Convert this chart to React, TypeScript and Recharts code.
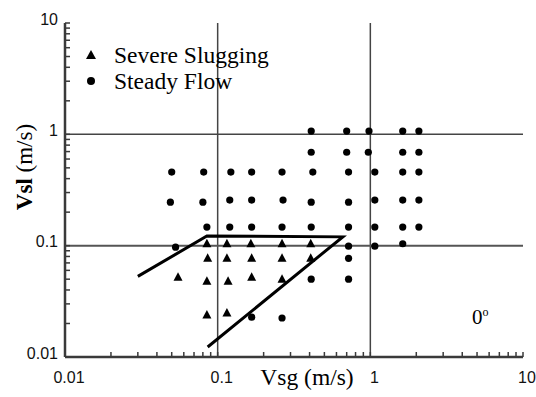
import React from "react";
import {
  ComposedChart,
  Scatter,
  XAxis,
  YAxis,
  ReferenceLine,
  Legend,
} from "recharts";

// superficial gas velocity (m/s) and liquid velocity (m/s) per test point
const STEADY_VSG = [
  0.41, 0.7, 0.98, 1.63, 2.08,
  0.41, 0.7, 0.97, 1.63, 2.08,
  0.05, 0.081, 0.122, 0.167, 0.264, 0.42, 0.72, 1.07, 1.63, 2.08,
  0.049, 0.08, 0.12, 0.167, 0.268, 0.41, 0.72, 1.07, 1.63, 2.08,
  0.085, 0.12, 0.167, 0.264, 0.41, 0.72, 1.07, 1.63, 2.08,
  0.053, 0.72, 1.07, 1.63,
  0.72,
  0.41, 0.72,
  0.167, 0.264,
];
const STEADY_VSL = [
  1.07, 1.07, 1.07, 1.07, 1.07,
  0.69, 0.69, 0.69, 0.69, 0.69,
  0.458, 0.458, 0.458, 0.458, 0.458, 0.458, 0.458, 0.458, 0.458, 0.458,
  0.246, 0.246, 0.257, 0.257, 0.257, 0.246, 0.246, 0.257, 0.257, 0.257,
  0.147, 0.147, 0.147, 0.147, 0.147, 0.147, 0.147, 0.147, 0.147,
  0.097, 0.099, 0.099, 0.104,
  0.077,
  0.05, 0.05,
  0.0228, 0.0224,
];

const SLUG_VSG = [
  0.085, 0.115, 0.165, 0.264, 0.407,
  0.086, 0.115, 0.167, 0.264, 0.407,
  0.055, 0.085, 0.117, 0.167, 0.264,
  0.085, 0.115,
];
const SLUG_VSL = [
  0.104, 0.104, 0.104, 0.104, 0.104,
  0.077, 0.077, 0.077, 0.077, 0.077,
  0.052, 0.048, 0.048, 0.052, 0.05,
  0.0238, 0.0248,
];

// severe slugging boundary
const BOUNDARY_VSG = [0.03, 0.085, 0.66, 0.086];
const BOUNDARY_VSL = [0.053, 0.122, 0.12, 0.0123];

const X_TICKS = [
  0.01, 0.02, 0.03, 0.04, 0.05, 0.06, 0.07, 0.08, 0.09,
  0.1, 0.2, 0.3, 0.4, 0.5, 0.6, 0.7, 0.8, 0.9,
  1, 2, 3, 4, 5, 6, 7, 8, 9, 10,
];
const Y_TICKS = X_TICKS;
const DECADES = [0.01, 0.1, 1, 10];
const DECADE_LABELS = ["0.01", "0.1", "1", "10"];

const steady = STEADY_VSG.map((x, i) => ({ x, y: STEADY_VSL[i] }));
const slugging = SLUG_VSG.map((x, i) => ({ x, y: SLUG_VSL[i] }));
const boundary = BOUNDARY_VSG.map((x, i) => ({ x, y: BOUNDARY_VSL[i] }));

const SANS = "'Liberation Sans', Arial, sans-serif";
const SERIF = "'Liberation Serif', 'Times New Roman', serif";
const FRAME = "#3a3a3a";

const decadeLabel = (v: number) => {
  const i = DECADES.indexOf(v);
  return i < 0 ? null : DECADE_LABELS[i];
};

const XTick = (props: any) => {
  const label = decadeLabel(props.payload.value);
  if (!label) return <g />;
  return (
    <text x={props.x + 4} y={props.y} dy="0.71em" textAnchor="middle"
      fontFamily={SANS} fontSize={16} fill="#111">
      {label}
    </text>
  );
};

const YTick = (props: any) => {
  const label = decadeLabel(props.payload.value);
  if (!label) return <g />;
  return (
    <text x={props.x} y={props.y - 4} dy="0.355em" textAnchor="end"
      fontFamily={SANS} fontSize={16} fill="#111">
      {label}
    </text>
  );
};

const Triangle = (props: any) => {
  const { cx, cy } = props;
  return (
    <path d={`M${cx},${cy - 5} L${cx + 4.5},${cy + 3.5} L${cx - 4.5},${cy + 3.5} Z`} fill="#000" />
  );
};

const Dot = (props: any) => <circle cx={props.cx} cy={props.cy} r={3.6} fill="#000" />;

const NoMarker = () => <g />;

const LegendBox = () => (
  <div style={{ fontFamily: SERIF, fontSize: 23.5, color: "#000", lineHeight: "26px" }}>
    <div style={{ display: "flex", alignItems: "center" }}>
      <svg width={14} height={12} style={{ marginRight: 16 }}>
        <path d="M7,1 L12,10 L2,10 Z" fill="#000" />
      </svg>
      Severe Slugging
    </div>
    <div style={{ display: "flex", alignItems: "center" }}>
      <svg width={14} height={12} style={{ marginRight: 16 }}>
        <circle cx={7} cy={6} r={4} fill="#000" />
      </svg>
      Steady Flow
    </div>
  </div>
);

export default function App() {
  return (
    <div style={{ position: "absolute", left: 0, top: 0, width: 536, height: 397, background: "#fff" }}>
      <ComposedChart
        width={536}
        height={397}
        margin={{ top: 23, right: 13, bottom: 0, left: 0 }}
      >
        <XAxis
          xAxisId="bottom"
          dataKey="x"
          type="number"
          scale="log"
          domain={[0.01, 10]}
          ticks={X_TICKS}
          interval={0}
          allowDataOverflow
          height={40}
          tickSize={-5}
          tickMargin={20}
          axisLine={{ stroke: FRAME, strokeWidth: 2.5 }}
          tickLine={{ stroke: FRAME, strokeWidth: 1.5 }}
          tick={<XTick />}
          label={{
            content: () => (
              <text x={307} y={385} textAnchor="middle" fontFamily={SERIF} fontSize={23.5} fill="#000">
                Vsg (m/s)
              </text>
            ),
          }}
        />
        <XAxis
          xAxisId="top"
          orientation="top"
          dataKey="x"
          type="number"
          scale="log"
          domain={[0.01, 10]}
          ticks={X_TICKS}
          interval={0}
          allowDataOverflow
          height={0}
          tickSize={-5}
          axisLine={{ stroke: FRAME, strokeWidth: 2.5 }}
          tickLine={{ stroke: FRAME, strokeWidth: 1.5 }}
          tick={false}
        />
        <YAxis
          yAxisId="left"
          dataKey="y"
          type="number"
          scale="log"
          domain={[0.01, 10]}
          ticks={Y_TICKS}
          interval={0}
          allowDataOverflow
          width={65}
          tickSize={-5}
          tickMargin={12}
          axisLine={{ stroke: FRAME, strokeWidth: 2.5 }}
          tickLine={{ stroke: FRAME, strokeWidth: 1.5 }}
          tick={<YTick />}
          label={{
            content: () => (
              <text x={24} y={167} transform="rotate(-90, 24, 167)" textAnchor="middle"
                dominantBaseline="central" fontFamily={SERIF} fontSize={23} fill="#000">
                <tspan fontWeight="bold">Vsl</tspan>
                <tspan> (m/s)</tspan>
              </text>
            ),
          }}
        />
        <YAxis
          yAxisId="right"
          orientation="right"
          dataKey="y"
          type="number"
          scale="log"
          domain={[0.01, 10]}
          ticks={Y_TICKS}
          interval={0}
          allowDataOverflow
          width={0}
          tickSize={-5}
          axisLine={{ stroke: FRAME, strokeWidth: 2.5 }}
          tickLine={{ stroke: FRAME, strokeWidth: 1.5 }}
          tick={false}
        />

        <ReferenceLine xAxisId="bottom" yAxisId="left" x={0.1} stroke="#444" strokeWidth={1.5} />
        <ReferenceLine xAxisId="bottom" yAxisId="left" x={1} stroke="#444" strokeWidth={1.5} />
        <ReferenceLine xAxisId="bottom" yAxisId="left" y={0.1} stroke="#555" strokeWidth={2} />
        <ReferenceLine xAxisId="bottom" yAxisId="left" y={1} stroke="#444" strokeWidth={1.5} />

        <Scatter
          name="Steady Flow"
          data={steady}
          xAxisId="bottom"
          yAxisId="left"
          shape={<Dot />}
          isAnimationActive={false}
        />
        <Scatter
          name="Severe Slugging"
          data={slugging}
          xAxisId="bottom"
          yAxisId="left"
          shape={<Triangle />}
          isAnimationActive={false}
        />
        <Scatter
          name="boundary"
          data={boundary}
          xAxisId="bottom"
          yAxisId="left"
          line={{ stroke: "#000", strokeWidth: 3 }}
          lineType="joint"
          shape={<NoMarker />}
          isAnimationActive={false}
        />

        <Legend
          layout="vertical"
          align="center"
          verticalAlign="middle"
          content={<LegendBox />}
          wrapperStyle={{ left: 84, top: 42, width: 230, height: 55 }}
        />
      </ComposedChart>
      <div style={{ position: "absolute", left: 472, top: 305, fontFamily: SERIF, fontSize: 21, color: "#000" }}>
        0<sup style={{ fontSize: 12 }}>o</sup>
      </div>
    </div>
  );
}
